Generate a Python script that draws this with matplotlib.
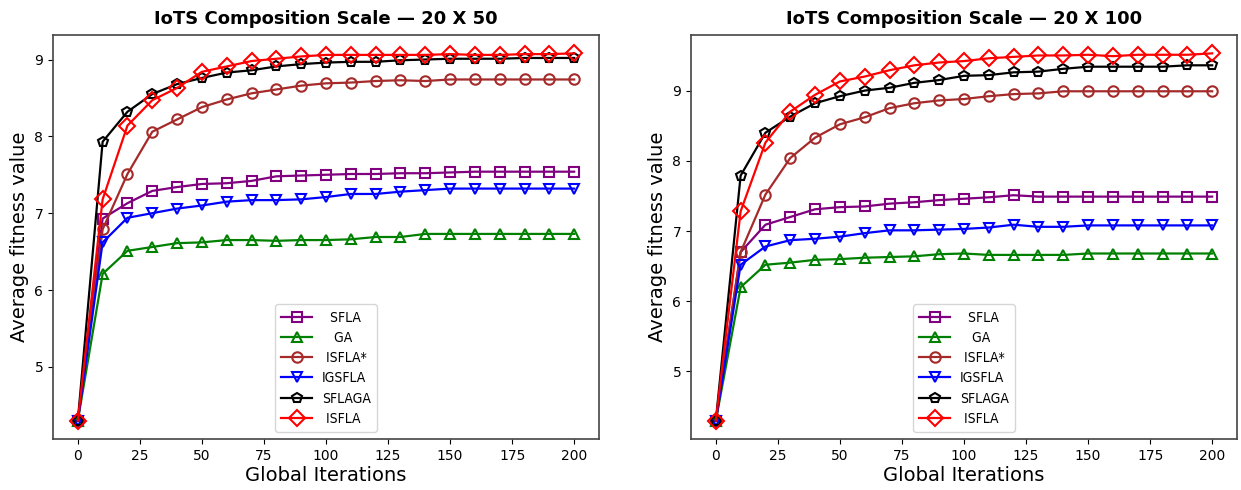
import matplotlib
matplotlib.use("Agg")
import matplotlib.pyplot as plt
from matplotlib.font_manager import FontProperties

iterations = [0, 10, 20, 30, 40, 50, 60, 70, 80, 90, 100, 110, 120, 130, 140, 150, 160, 170, 180, 190, 200]

series_names = ["SFLA", "GA", "ISFLA*", "IGSFLA", "SFLAGA", "ISFLA"]
legend_labels = ["  SFLA", "   GA", " ISFLA*", "IGSFLA", "SFLAGA", " ISFLA"]

titles = ["IoTS Composition Scale \u2014 20 X 50", "IoTS Composition Scale \u2014 20 X 100"]

# 20 x 50
sfla_50 = [4.3, 6.93, 7.13, 7.29, 7.34, 7.38, 7.39, 7.42, 7.48, 7.49, 7.50, 7.51, 7.51, 7.52, 7.52, 7.53, 7.54, 7.54, 7.54, 7.54, 7.54]
ga_50 = [4.3, 6.21, 6.51, 6.56, 6.61, 6.62, 6.65, 6.65, 6.64, 6.65, 6.65, 6.66, 6.69, 6.69, 6.73, 6.73, 6.73, 6.73, 6.73, 6.73, 6.73]
isfla_star_50 = [4.3, 6.79, 7.51, 8.06, 8.22, 8.38, 8.48, 8.56, 8.61, 8.66, 8.69, 8.70, 8.72, 8.73, 8.72, 8.74, 8.74, 8.74, 8.74, 8.74, 8.74]
igsfla_50 = [4.3, 6.62, 6.94, 7.00, 7.06, 7.10, 7.15, 7.17, 7.17, 7.18, 7.21, 7.25, 7.25, 7.28, 7.30, 7.32, 7.32, 7.32, 7.32, 7.32, 7.32]
sflaga_50 = [4.3, 7.93, 8.32, 8.55, 8.68, 8.76, 8.83, 8.86, 8.91, 8.94, 8.96, 8.97, 8.97, 8.99, 9.00, 9.01, 9.01, 9.01, 9.02, 9.02, 9.02]
isfla_50 = [4.3, 7.18, 8.14, 8.47, 8.63, 8.84, 8.91, 8.98, 9.01, 9.04, 9.06, 9.06, 9.06, 9.06, 9.06, 9.07, 9.06, 9.06, 9.07, 9.07, 9.08]

# 20 x 100
sfla_100 = [4.3, 6.70, 7.09, 7.20, 7.31, 7.34, 7.35, 7.39, 7.41, 7.44, 7.46, 7.48, 7.51, 7.49, 7.49, 7.49, 7.49, 7.49, 7.49, 7.49, 7.49]
ga_100 = [4.3, 6.20, 6.52, 6.55, 6.59, 6.60, 6.62, 6.63, 6.64, 6.67, 6.68, 6.66, 6.66, 6.66, 6.66, 6.68, 6.68, 6.68, 6.68, 6.68, 6.68]
isfla_star_100 = [4.3, 6.70, 7.52, 8.04, 8.33, 8.52, 8.62, 8.75, 8.82, 8.86, 8.88, 8.92, 8.95, 8.96, 8.99, 8.99, 8.99, 8.99, 8.99, 8.99, 8.99]
igsfla_100 = [4.3, 6.52, 6.78, 6.87, 6.89, 6.92, 6.97, 7.01, 7.01, 7.02, 7.03, 7.05, 7.09, 7.06, 7.06, 7.08, 7.08, 7.08, 7.08, 7.08, 7.08]
sflaga_100 = [4.3, 7.79, 8.40, 8.63, 8.82, 8.92, 9.00, 9.04, 9.11, 9.15, 9.21, 9.22, 9.26, 9.27, 9.31, 9.34, 9.34, 9.34, 9.34, 9.36, 9.36]
isfla_100 = [4.3, 7.28, 8.26, 8.70, 8.94, 9.13, 9.20, 9.29, 9.36, 9.40, 9.42, 9.46, 9.48, 9.50, 9.50, 9.51, 9.49, 9.51, 9.51, 9.51, 9.53]

panels = [
    [sfla_50, ga_50, isfla_star_50, igsfla_50, sflaga_50, isfla_50],
    [sfla_100, ga_100, isfla_star_100, igsfla_100, sflaga_100, isfla_100],
]

colors = ["purple", "green", "brown", "blue", "black", "red"]
markers = ["s", "^", "o", "v", "p", "D"]
msizes = [7, 7, 7.5, 7, 7, 8]

fig = plt.figure(figsize=(12.41, 4.90), dpi=100)
ax_rects = [
    [53 / 1241, 51 / 490, 546 / 1241, 404 / 490],
    [691 / 1241, 51 / 490, 546 / 1241, 404 / 490],
]

legend_font = FontProperties(family="DejaVu Sans", stretch="condensed", size=10)

for rect, data, title in zip(ax_rects, panels, titles):
    ax = fig.add_axes(rect)
    for vals, lab, c, m, ms in zip(data, legend_labels, colors, markers, msizes):
        ax.plot(iterations, vals, color=c, marker=m, markersize=ms,
                markerfacecolor="none", markeredgecolor=c, markeredgewidth=1.5,
                linewidth=1.6, label=lab)
    ax.set_title(title, fontsize=13, fontweight="bold", pad=8)
    ax.set_xlabel("Global Iterations", fontsize=14, labelpad=2)
    ax.set_ylabel("Average fitness value", fontsize=14)
    ax.set_xticks([0, 25, 50, 75, 100, 125, 150, 175, 200])
    ax.set_yticks([5, 6, 7, 8, 9])
    ax.tick_params(labelsize=10)
    for sp in ax.spines.values():
        sp.set_color("#444444")
        sp.set_linewidth(1.2)
    leg = ax.legend(loc="lower center", frameon=True, prop=legend_font,
                    handlelength=2.2, labelspacing=0.45, borderpad=0.45,
                    handletextpad=0.7)
    leg.get_frame().set_edgecolor("#cccccc")

fig.savefig("out.png", dpi=100)
